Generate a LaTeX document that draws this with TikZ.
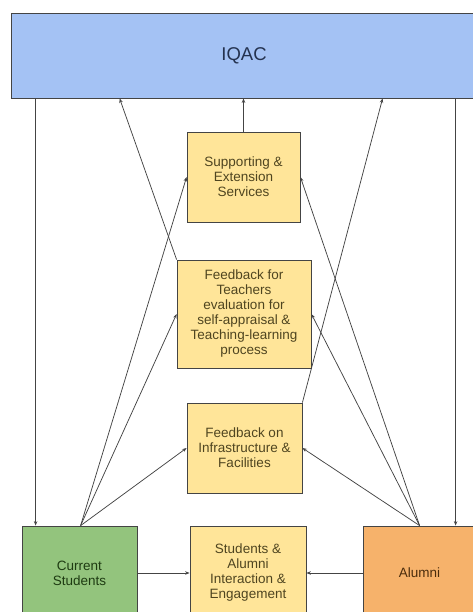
\documentclass[tikz,border=0pt]{standalone}
\usepackage{fontspec}
\setmainfont{Liberation Sans}
\usetikzlibrary{arrows.meta}

\definecolor{iqacblue}{HTML}{A4C2F4}
\definecolor{boxyellow}{HTML}{FFE599}
\definecolor{boxgreen}{HTML}{93C47D}
\definecolor{boxorange}{HTML}{F6B26B}
\definecolor{edgegray}{HTML}{444444}
\definecolor{txtblue}{HTML}{24324F}
\definecolor{txtyellow}{HTML}{4F4520}
\definecolor{txtgreen}{HTML}{1E3B12}
\definecolor{txtorange}{HTML}{4A2C0C}

\begin{document}
\begin{tikzpicture}[x=1pt, y=-1pt,
  box/.style={draw=edgegray, line width=0.8pt, inner sep=2pt, align=center, font=\fontsize{13.5}{15}\selectfont},
  ybox/.style={box, fill=boxyellow, text=txtyellow},
  arr/.style={draw=edgegray, line width=0.75pt, -{Stealth[length=4.5pt, width=3.5pt]}}]
\useasboundingbox (0,0) rectangle (473,612);
\clip (0,0) rectangle (473,612);
% IQAC on top
\node[box, fill=iqacblue, text=txtblue, minimum width=466pt, minimum height=85pt, font=\fontsize{18.5}{20}\selectfont] (iqac) at (244,55.5) {\raisebox{-9pt}{IQAC}};
% middle column
\node[ybox, minimum width=113pt, minimum height=90pt] (sup) at (243.5,177) {Supporting \&\\Extension\\Services};
\node[ybox, minimum width=134pt, minimum height=108pt] (tea) at (244,314) {Feedback for\\Teachers\\evaluation for\\self-appraisal \&\\Teaching-learning\\process};
\node[ybox, minimum width=115pt, minimum height=90pt] (inf) at (244.5,448) {Feedback on\\Infrastructure \&\\Facilities};
% bottom row
\node[box, fill=boxgreen, text=txtgreen, minimum width=115pt, minimum height=94pt] (cs) at (79.5,573) {Current\\Students};
\node[ybox, minimum width=116pt, minimum height=94pt] (sa) at (248,573) {Students \&\\Alumni\\Interaction \&\\Engagement};
\node[box, fill=boxorange, text=txtorange, minimum width=113pt, minimum height=94pt] (al) at (419.5,573) {Alumni};
% fans
\coordinate (csfan) at ([xshift=59pt]cs.north west);
\coordinate (alfan) at ([xshift=57pt]al.north west);
\foreach \b in {sup,tea,inf} {
  \draw[arr] (csfan) -- (\b.west);
  \draw[arr] (alfan) -- (\b.east);
}
% to and from IQAC
\draw[arr] (sup.north) -- (sup.north |- iqac.south);
\draw[arr] (tea.north west) -- ([xshift=109pt]iqac.south west);
\draw[arr] (inf.north east) -- ([xshift=372pt]iqac.south west);
\draw[arr] ([xshift=25pt]iqac.south west) -- ([xshift=14pt]cs.north west);
\draw[arr] ([xshift=93pt]al.north west |- iqac.south) -- ([xshift=93pt]al.north west);
% bottom arrows
\draw[arr] (cs.east) -- (sa.west);
\draw[arr] (al.west) -- (sa.east);
\end{tikzpicture}
\end{document}
